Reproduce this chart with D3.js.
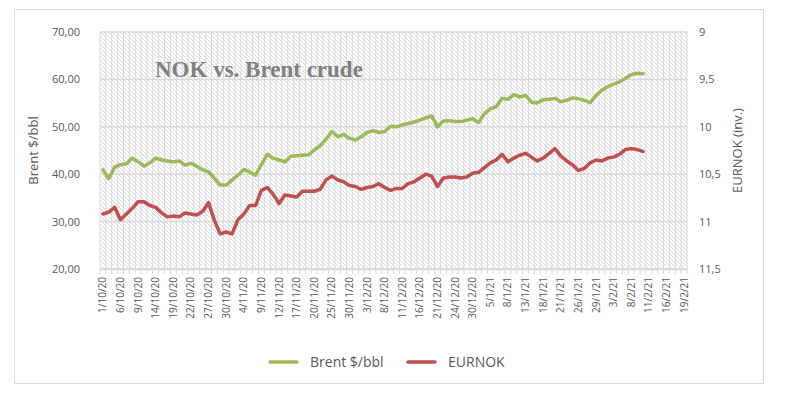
<!DOCTYPE html>
<html>
<head>
<meta charset="utf-8">
<script src="https://cdn.jsdelivr.net/npm/d3@7"></script>
<style>
  body { margin: 0; background: #fff; }
  text { font-family: "Open Sans", sans-serif; fill: #595959; }
</style>
</head>
<body>
<svg width="787" height="398"></svg>
<script>
// Business days on the category axis (1/10/20 - 19/2/21, no 25/12 or 1/1)
const dates = [
  "1/10/20","2/10/20","5/10/20","6/10/20","7/10/20","8/10/20","9/10/20","12/10/20","13/10/20","14/10/20",
  "15/10/20","16/10/20","19/10/20","20/10/20","21/10/20","22/10/20","23/10/20","26/10/20","27/10/20","28/10/20",
  "29/10/20","30/10/20",
  "2/11/20","3/11/20","4/11/20","5/11/20","6/11/20","9/11/20","10/11/20","11/11/20","12/11/20","13/11/20",
  "16/11/20","17/11/20","18/11/20","19/11/20","20/11/20","23/11/20","24/11/20","25/11/20","26/11/20","27/11/20",
  "30/11/20",
  "1/12/20","2/12/20","3/12/20","4/12/20","7/12/20","8/12/20","9/12/20","10/12/20","11/12/20","14/12/20",
  "15/12/20","16/12/20","17/12/20","18/12/20","21/12/20","22/12/20","23/12/20","24/12/20","28/12/20","29/12/20",
  "30/12/20","31/12/20",
  "4/1/21","5/1/21","6/1/21","7/1/21","8/1/21","11/1/21","12/1/21","13/1/21","14/1/21","15/1/21",
  "18/1/21","19/1/21","20/1/21","21/1/21","22/1/21","25/1/21","26/1/21","27/1/21","28/1/21","29/1/21",
  "1/2/21","2/2/21","3/2/21","4/2/21","5/2/21","8/2/21","9/2/21","10/2/21","11/2/21","12/2/21",
  "15/2/21","16/2/21","17/2/21","18/2/21","19/2/21"
];

// Brent $/bbl (left axis)
const brent = [
  40.9, 39.1, 41.5, 42.0, 42.2, 43.4, 42.6, 41.7, 42.4, 43.4,
  43.0, 42.8, 42.6, 42.8, 41.9, 42.3, 41.7, 40.9, 40.5, 39.1,
  37.7, 37.7, 38.8, 39.8, 41.0, 40.5, 39.8, 42.0, 44.2, 43.4,
  43.0, 42.6, 43.8, 43.9, 44.0, 44.1, 45.1, 46.0, 47.4, 49.0,
  47.9, 48.4, 47.6, 47.2, 47.9, 48.8, 49.2, 48.8, 49.0, 50.1,
  50.0, 50.4, 50.7, 51.0, 51.4, 51.9, 52.3, 50.0, 51.2, 51.3,
  51.1, 51.1, 51.4, 51.7, 50.9, 52.8, 53.8, 54.3, 56.0, 55.8,
  56.8, 56.3, 56.6, 55.2, 55.0, 55.7, 55.8, 56.0, 55.3, 55.6,
  56.1, 55.9, 55.6, 55.1, 56.6, 57.7, 58.5, 59.0, 59.5, 60.2,
  61.0, 61.3, 61.2
];

// EURNOK (right axis, inverted)
const eurnok = [
  10.92, 10.90, 10.85, 10.98, 10.92, 10.86, 10.79, 10.79, 10.83, 10.85,
  10.91, 10.95, 10.94, 10.95, 10.91, 10.92, 10.93, 10.89, 10.80, 10.99,
  11.13, 11.11, 11.13, 10.98, 10.92, 10.83, 10.83, 10.67, 10.64, 10.71,
  10.81, 10.72, 10.73, 10.74, 10.68, 10.68, 10.68, 10.66, 10.56, 10.52,
  10.56, 10.58, 10.62, 10.63, 10.66, 10.64, 10.63, 10.60, 10.64, 10.67,
  10.65, 10.65, 10.60, 10.58, 10.54, 10.50, 10.52, 10.63, 10.54, 10.53,
  10.53, 10.54, 10.53, 10.49, 10.48, 10.43, 10.38, 10.35, 10.29, 10.37,
  10.33, 10.30, 10.28, 10.32, 10.36, 10.33, 10.28, 10.23, 10.31, 10.36,
  10.40, 10.46, 10.44, 10.38, 10.35, 10.36, 10.33, 10.32, 10.29, 10.24,
  10.23, 10.24, 10.26
];

const brentTicks = [20, 30, 40, 50, 60, 70];
const nokTicks = [9, 9.5, 10, 10.5, 11, 11.5];
const xTickLabels = dates.filter((d, i) => i % 3 === 0);

const svg = d3.select("svg");
const svgWidth = +svg.attr("width");
const svgHeight = +svg.attr("height");

const margin = { top: 32, right: 100, bottom: 129, left: 100 };
const width = svgWidth - margin.left - margin.right;
const height = svgHeight - margin.top - margin.bottom;

// chart frame
svg.append("rect")
  .attr("x", 14.5).attr("y", 9.5)
  .attr("width", 749).attr("height", 374)
  .attr("fill", "#fff")
  .attr("stroke", "#d9d9d9");

// hatch pattern of the plot area
const pat = svg.append("defs").append("pattern")
  .attr("id", "hatch")
  .attr("patternUnits", "userSpaceOnUse")
  .attr("width", 4).attr("height", 4);
pat.append("path")
  .attr("d", "M-1,-1L5,5M-1,3L1,5M3,-1L5,1")
  .attr("stroke", "#d4d4d4")
  .attr("stroke-width", 0.9);

const g = svg.append("g")
  .attr("transform", `translate(${margin.left},${margin.top})`);

// scales
const x = d3.scaleBand().domain(dates).range([0, width]).padding(0);
const yL = d3.scaleLinear().domain([20, 70]).range([height, 0]);
const yR = d3.scaleLinear().domain([9, 11.5]).range([0, height]);
const cx = i => x(dates[i]) + x.bandwidth() / 2;

g.append("rect")
  .attr("width", width).attr("height", height)
  .attr("fill", "url(#hatch)");

// vertical gridlines, one per category, with small ticks below
const bounds = dates.map(d => x(d)).concat([width]);
g.append("g")
  .selectAll("line")
  .data(bounds)
  .join("line")
  .attr("x1", d => d).attr("x2", d => d)
  .attr("y1", 0).attr("y2", height + 5)
  .attr("stroke", "#d9d9d9")
  .attr("stroke-width", 1);

// horizontal gridlines
g.append("g")
  .selectAll("line")
  .data(brentTicks)
  .join("line")
  .attr("x1", 0).attr("x2", width)
  .attr("y1", d => yL(d)).attr("y2", d => yL(d))
  .attr("stroke", "#d9d9d9")
  .attr("stroke-width", 1.5);

// left axis
const axL = g.append("g")
  .call(d3.axisLeft(yL).tickValues(brentTicks)
    .tickFormat(d => d3.format(".2f")(d).replace(".", ","))
    .tickSize(0).tickPadding(20));
axL.select(".domain").remove();
axL.selectAll("text").attr("font-size", 11).attr("fill", "#595959")
  .style("font-family", "'Open Sans', sans-serif");

// right axis
const axR = g.append("g")
  .attr("transform", `translate(${width},0)`)
  .call(d3.axisRight(yR).tickValues(nokTicks)
    .tickFormat(d => String(d).replace(".", ","))
    .tickSize(0).tickPadding(12));
axR.select(".domain").remove();
axR.selectAll("text").attr("font-size", 11).attr("fill", "#595959")
  .style("font-family", "'Open Sans', sans-serif");

// bottom axis
const axB = g.append("g")
  .attr("transform", `translate(0,${height})`)
  .call(d3.axisBottom(x).tickValues(xTickLabels).tickSize(0).tickSizeOuter(0));
axB.select(".domain").attr("stroke", "#d9d9d9").attr("stroke-width", 1.5);
axB.selectAll("text")
  .attr("transform", "rotate(-90)")
  .attr("text-anchor", "end")
  .attr("x", -8).attr("y", 0).attr("dy", "0.35em")
  .attr("font-size", 10).attr("fill", "#595959")
  .style("font-family", "'Open Sans', sans-serif");

// axis titles
g.append("text")
  .attr("transform", `translate(${-margin.left + 38},${height / 2}) rotate(-90)`)
  .attr("text-anchor", "middle")
  .attr("font-size", 13)
  .text("Brent $/bbl");

g.append("text")
  .attr("transform", `translate(${width + 55},${height / 2}) rotate(-90)`)
  .attr("text-anchor", "middle")
  .attr("font-size", 13)
  .text("EURNOK (inv.)");

// title
g.append("text")
  .attr("x", 55).attr("y", 45)
  .attr("font-size", 23)
  .attr("font-weight", "bold")
  .style("font-family", "'Liberation Serif', serif")
  .style("fill", "#808080")
  .text("NOK vs. Brent crude");

// lines
const lineL = d3.line().x((d, i) => cx(i)).y(d => yL(d));
const lineR = d3.line().x((d, i) => cx(i)).y(d => yR(d));

g.append("path")
  .datum(brent)
  .attr("d", lineL)
  .attr("fill", "none")
  .attr("stroke", "#9bbb59")
  .attr("stroke-width", 3.5)
  .attr("stroke-linejoin", "round")
  .attr("stroke-linecap", "round");

g.append("path")
  .datum(eurnok)
  .attr("d", lineR)
  .attr("fill", "none")
  .attr("stroke", "#c0504d")
  .attr("stroke-width", 3.5)
  .attr("stroke-linejoin", "round")
  .attr("stroke-linecap", "round");

// legend
const legend = svg.append("g").attr("transform", "translate(270,362)");
const items = [
  { name: "Brent $/bbl", color: "#9bbb59", x: 0 },
  { name: "EURNOK", color: "#c0504d", x: 138 }
];
const li = legend.selectAll("g").data(items).join("g")
  .attr("transform", d => `translate(${d.x},0)`);
li.append("line")
  .attr("x1", 0).attr("x2", 27)
  .attr("stroke", d => d.color)
  .attr("stroke-width", 3.5)
  .attr("stroke-linecap", "round");
li.append("text")
  .attr("x", 40).attr("dy", "0.35em")
  .attr("font-size", 14)
  .text(d => d.name);
</script>
</body>
</html>
